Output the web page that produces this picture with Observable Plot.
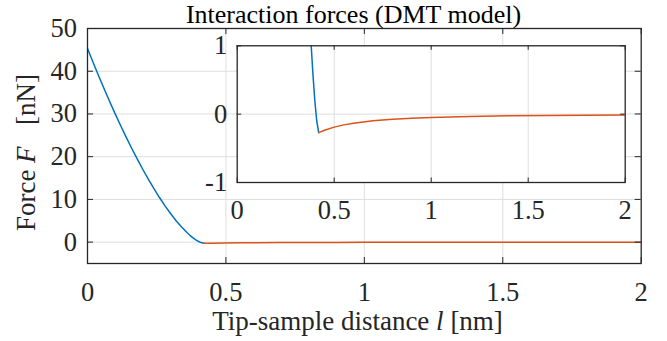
<!DOCTYPE html>
<html>
<head>
<meta charset="utf-8">
<script src="https://cdn.jsdelivr.net/npm/d3@7"></script>
<script src="https://cdn.jsdelivr.net/npm/@observablehq/plot@0.6"></script>
<style>
  body { margin: 0; background: white; }
  #wrap { position: relative; width: 667px; height: 341px; background: white; }
  #wrap svg { position: absolute; left: 0; top: 0; }
  #wrap svg text { font-family: 'Liberation Serif', 'Times New Roman', serif !important; }
</style>
</head>
<body>
<div id="wrap"></div>
<script>
// Contact regime (blue): tip-sample distance l [nm] and force F [nN]
const contactL = [0, 0.02, 0.04, 0.06, 0.08, 0.10, 0.12, 0.14, 0.16, 0.18, 0.20, 0.22, 0.24, 0.26, 0.28, 0.30, 0.32, 0.34, 0.36, 0.37, 0.38, 0.39, 0.40, 0.41, 0.42];
const contactF = [45.3, 42.08, 38.94, 35.89, 32.92, 30.03, 27.24, 24.53, 21.92, 19.41, 17.00, 14.70, 12.51, 10.44, 8.50, 6.69, 5.02, 3.52, 2.19, 1.60, 1.07, 0.60, 0.20, -0.10, -0.27];
// Non-contact regime (orange)
const noncontactL = [0.42, 0.45, 0.50, 0.55, 0.60, 0.70, 0.80, 0.90, 1.0, 1.2, 1.4, 1.6, 1.8, 2.0];
const noncontactF = [-0.27, -0.235, -0.19, -0.157, -0.132, -0.097, -0.074, -0.059, -0.048, -0.033, -0.024, -0.019, -0.015, -0.012];

const xTicks = [0, 0.5, 1, 1.5, 2];
const yTicks = [0, 10, 20, 30, 40, 50];
const insetXTicks = [0, 0.5, 1, 1.5, 2];
const insetYTicks = [-1, 0, 1];

const titleText = "Interaction forces (DMT model)";

const contact = contactL.map((l, i) => ({l, F: contactF[i]}));
const noncontact = noncontactL.map((l, i) => ({l, F: noncontactF[i]}));

const BLUE = "#0072BD", ORANGE = "#D95319", AX = "#262626", GRID = "#dedede";
const FONT = "'Liberation Serif', 'Times New Roman', serif";
const FS = "26.5px";
const W = 667, H = 341;

// ---------- main plot ----------
const mL = 87, mR = W - 640.7, mT = 28, mB = H - 263;
const fW = W - mL - mR, fH = H - mT - mB;
const fmt = d => String(d);

const main = Plot.plot({
  width: W, height: H,
  marginLeft: mL, marginRight: mR, marginTop: mT, marginBottom: mB,
  style: {fontFamily: FONT, fontSize: FS, background: "transparent", color: AX, overflow: "visible"},
  x: {domain: [0, 2], axis: null, label: null},
  y: {domain: [-5, 50], axis: null, label: null},
  marks: [
    Plot.ruleX([0.5, 1, 1.5], {stroke: GRID, strokeWidth: 1}),
    Plot.ruleY([0, 10, 20, 30, 40], {stroke: GRID, strokeWidth: 1}),
    Plot.line(contact, {x: "l", y: "F", stroke: BLUE, strokeWidth: 1.5}),
    Plot.line(noncontact, {x: "l", y: "F", stroke: ORANGE, strokeWidth: 1.5}),
    Plot.tickX(xTicks, {x: d => d, insetTop: fH - 6, stroke: AX}),
    Plot.tickX(xTicks, {x: d => d, insetBottom: fH - 6, stroke: AX}),
    Plot.tickY(yTicks, {y: d => d, insetRight: fW - 6, stroke: AX}),
    Plot.tickY(yTicks, {y: d => d, insetLeft: fW - 6, stroke: AX}),
    Plot.axisX(xTicks, {tickSize: 0, tickPadding: 18.5, tickFormat: fmt, fill: AX, label: null}),
    Plot.axisY(yTicks, {tickSize: 0, tickPadding: 10.5, tickFormat: fmt, fill: AX, label: null}),
    Plot.frame({stroke: AX, strokeWidth: 1.3})
  ]
});

// ---------- inset ----------
const iL = 236.7, iR = W - 624.7, iT = 45.3, iB = H - 182;
const iW = W - iL - iR, iH = H - iT - iB;

const inset = Plot.plot({
  width: W, height: H,
  marginLeft: iL, marginRight: iR, marginTop: iT, marginBottom: iB,
  style: {fontFamily: FONT, fontSize: FS, background: "transparent", color: AX, overflow: "visible"},
  x: {domain: [0, 2], axis: null, label: null},
  y: {domain: [-1, 1], axis: null, label: null},
  marks: [
    Plot.frame({fill: "white", stroke: "none"}),
    Plot.ruleX([0.5, 1, 1.5], {stroke: GRID, strokeWidth: 1}),
    Plot.ruleY([0], {stroke: GRID, strokeWidth: 1}),
    Plot.line(contact, {x: "l", y: "F", stroke: BLUE, strokeWidth: 1.5, clip: true}),
    Plot.line(noncontact, {x: "l", y: "F", stroke: ORANGE, strokeWidth: 1.5, clip: true}),
    Plot.tickX(insetXTicks, {x: d => d, insetTop: iH - 4.5, stroke: AX}),
    Plot.tickX(insetXTicks, {x: d => d, insetBottom: iH - 4.5, stroke: AX}),
    Plot.tickY(insetYTicks, {y: d => d, insetRight: iW - 4.5, stroke: AX}),
    Plot.tickY(insetYTicks, {y: d => d, insetLeft: iW - 4.5, stroke: AX}),
    Plot.axisX(insetXTicks, {tickSize: 0, tickPadding: 17.5, tickFormat: fmt, fill: AX, label: null}),
    Plot.axisY(insetYTicks, {tickSize: 0, tickPadding: 10, tickFormat: fmt, fill: AX, label: null}),
    Plot.frame({stroke: AX, strokeWidth: 1.3})
  ]
});

const wrap = document.getElementById("wrap");
wrap.appendChild(main);
wrap.appendChild(inset);

// ---------- title and axis labels ----------
const svg = d3.select(inset);
const g = svg.append("g")
  .attr("font-family", FONT)
  .attr("font-size", "27px")
  .attr("fill", "#000")
  .style("white-space", "pre");

g.append("text")
  .attr("x", 353.5).attr("y", 23.2)
  .attr("font-size", "26px")
  .attr("text-anchor", "middle")
  .text(titleText);

const xl = g.append("text")
  .attr("x", 357.5).attr("y", 330)
  .attr("text-anchor", "middle")
  .attr("fill", AX);
xl.append("tspan").text("Tip-sample distance ");
xl.append("tspan").attr("font-style", "italic").text("l");
xl.append("tspan").text(" [nm]");

const yl = g.append("text")
  .attr("transform", "translate(35,152.5) rotate(-90)")
  .attr("text-anchor", "middle")
  .attr("fill", AX);
yl.append("tspan").text("Force ");
yl.append("tspan").attr("font-style", "italic").text("F");
yl.append("tspan").attr("dx", 8).text("  [nN]");
</script>
</body>
</html>
